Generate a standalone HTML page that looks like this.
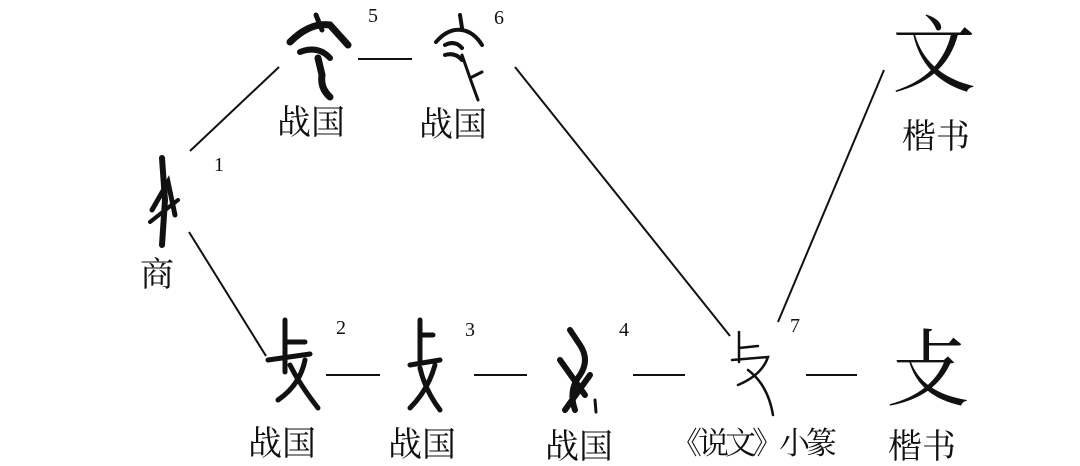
<!DOCTYPE html>
<html><head><meta charset="utf-8"><style>
html,body{margin:0;padding:0;background:#fff;}
body{width:1080px;height:459px;position:relative;overflow:hidden;}
.t{position:absolute;font-family:"Liberation Serif","Noto Serif CJK SC",serif;color:#111;white-space:nowrap;line-height:1;}
.l{font-size:34px;}
.n{font-size:20px;}
svg{position:absolute;left:0;top:0;}
</style></head><body>
<svg width="1080" height="459" viewBox="0 0 1080 459">
<g stroke="#111" stroke-width="2" fill="none">
<line x1="190" y1="151" x2="279" y2="67"/>
<line x1="189" y1="232" x2="266" y2="356"/>
<line x1="358" y1="59" x2="412" y2="59"/>
<line x1="515" y1="67" x2="730" y2="336"/>
<line x1="884" y1="70" x2="778" y2="322"/>
<line x1="326" y1="375" x2="380" y2="375"/>
<line x1="474" y1="375" x2="527" y2="375"/>
<line x1="633" y1="375" x2="685" y2="375"/>
<line x1="806" y1="375" x2="857" y2="375"/>
</g>
<g stroke="#111" fill="none" stroke-linecap="round">
<path d="M162 158 L165 200 L162 245" stroke-width="6"/>
<path d="M152 210 L168 182 L175 215" stroke-width="5"/>
<path d="M150 222 L178 200" stroke-width="4"/>
<path d="M290 42 Q310 22 330 25 L348 45" stroke-width="7"/>
<path d="M300 52 Q318 45 330 58" stroke-width="6"/>
<path d="M318 58 L322 75 Q320 88 330 97" stroke-width="7"/>
<path d="M316 15 L322 30" stroke-width="5"/>
<path d="M460 15 L462 28 M436 42 Q448 28 462 30 Q474 32 482 45" stroke-width="4"/>
<path d="M445 45 Q455 40 462 48 M445 55 Q455 52 462 60" stroke-width="4"/>
<path d="M462 55 L470 78 L478 100 M470 78 L482 72" stroke-width="3"/>
<path d="M285 320 L285 372 M285 342 L305 342 M268 360 L310 354 M290 365 Q300 385 318 408 M305 360 Q300 385 278 400" stroke-width="5"/>
<path d="M420 320 L420 360 M420 335 L433 335 M410 365 L440 360 M420 368 Q425 390 440 410 M435 365 Q428 390 410 408" stroke-width="5"/>
<path d="M570 330 L580 345 Q590 360 580 375 Q568 390 575 410 M560 360 L585 395 M590 375 L565 410" stroke-width="6"/>
<path d="M595 400 L596 412" stroke-width="3"/>
<path d="M739 332 L739 362 M739 348 L758 346 M732 360 L768 357 Q762 375 738 385 M748 370 Q768 385 773 415" stroke-width="2.5"/>
</g>
</svg>
<div class="t n" style="left:368px;top:6px;">5</div>
<div class="t n" style="left:494px;top:8px;">6</div>
<div class="t n" style="left:214px;top:155px;">1</div>
<div class="t n" style="left:336px;top:318px;">2</div>
<div class="t n" style="left:465px;top:320px;">3</div>
<div class="t n" style="left:619px;top:320px;">4</div>
<div class="t n" style="left:790px;top:316px;">7</div>
<div class="t l" style="left:277px;top:107px;">战国</div>
<div class="t l" style="left:419px;top:109px;">战国</div>
<div class="t l" style="left:140px;top:259px;">商</div>
<div class="t" style="left:892px;top:16px;font-size:84px;">文</div>
<div class="t l" style="left:902px;top:121px;">楷书</div>
<div class="t" style="left:886px;top:330px;font-size:84px;">攴</div>
<div class="t l" style="left:248px;top:428px;">战国</div>
<div class="t l" style="left:388px;top:429px;">战国</div>
<div class="t l" style="left:545px;top:431px;">战国</div>
<div class="t" style="left:671px;top:428px;font-size:31px;letter-spacing:-4px;">《说文》小篆</div>
<div class="t l" style="left:888px;top:431px;">楷书</div>
</body></html>
